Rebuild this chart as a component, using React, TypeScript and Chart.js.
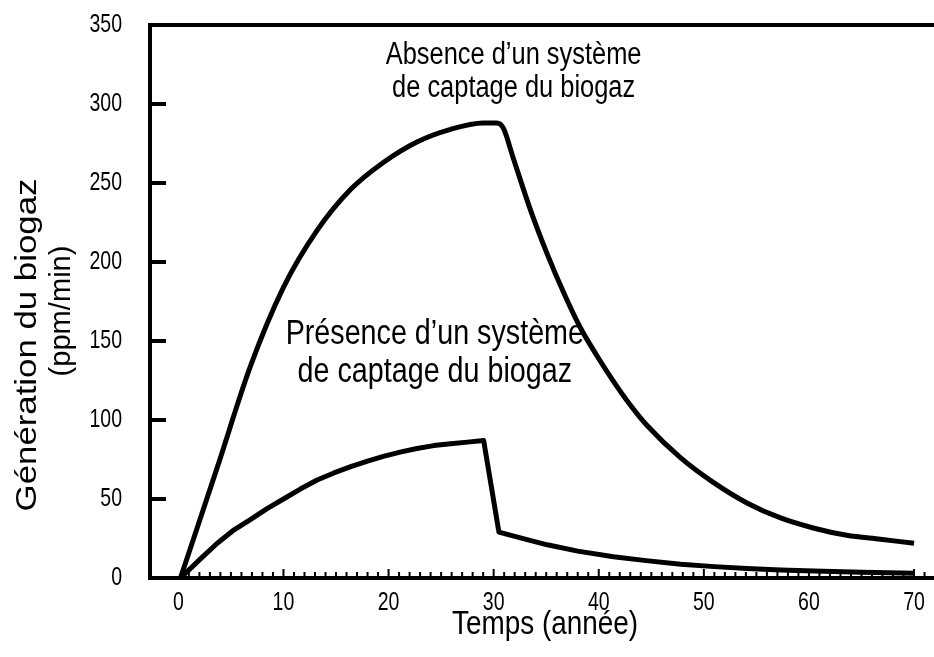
import React, { useEffect, useRef } from "react";
import { Chart, registerables } from "chart.js";

Chart.register(...registerables);

// ---- data ----
const X_TICKS = [0, 10, 20, 30, 40, 50, 60, 70];
const Y_TICKS = [0, 50, 100, 150, 200, 250, 300, 350];

const UPPER_X = [0.2, 3.7, 6.85, 10, 13.2, 16.4, 19.5, 22.7, 25.9, 29, 30.3, 30.9, 31.9, 33.5, 35.1, 36.7, 38.2, 39.8, 41.4, 43, 44.6, 47.8, 50.9, 54.1, 57.3, 60.5, 63.6, 66.8, 70];
const UPPER_Y = [0, 70, 134, 184, 220, 246, 263, 276, 284, 288, 288, 285, 265, 233, 205, 180, 159, 141, 124.5, 109.5, 96.5, 76, 60.5, 47.5, 38, 31.5, 27, 24.5, 22];

const LOWER_X = [0.2, 2, 3.7, 5.3, 6.85, 8.4, 10, 11.6, 13.2, 14.8, 16.4, 18, 19.5, 21.1, 22.7, 24.3, 25.9, 27.5, 29.05, 30.5, 33, 35.1, 38, 41.4, 44.5, 47.8, 51, 54.1, 57.3, 60.5, 65, 70];
const LOWER_Y = [0, 11.5, 22, 30.5, 37, 43.8, 50, 56.3, 62, 66.5, 70.5, 74, 77, 79.7, 82, 83.8, 85, 86, 87, 29, 24.6, 21, 17, 13.5, 11, 8.7, 7.2, 6, 5.1, 4.5, 3.7, 3];

const X_TITLE = "Temps (année)";
const Y_TITLE = ["Génération du biogaz", "(ppm/min)"];
const LABEL_ABSENCE = ["Absence d’un système", "de captage du biogaz"];
const LABEL_PRESENCE = ["Présence d’un système", "de captage du biogaz"];
// anchor: [x value, y value line 1, y value line 2]
const ABSENCE_ANCHOR = [31.9, 331, 310];
const PRESENCE_ANCHOR = [24.4, 154, 130];

const FAMILY = "'Liberation Sans', Arial, Helvetica, sans-serif";

const toPoints = (xs: number[], ys: number[]) => xs.map((x, i) => ({ x, y: ys[i] }));

function narrowText(ctx: CanvasRenderingContext2D, text: string, x: number, y: number, size: number, sx = 0.82, rot = 0) {
  ctx.save();
  ctx.font = `${size}px ${FAMILY}`;
  ctx.translate(x, y);
  if (rot) ctx.rotate(rot);
  ctx.scale(sx, 1);
  ctx.fillText(text, 0, 0);
  ctx.restore();
}

const decoPlugin = {
  id: "deco",
  afterDraw(chart: any) {
    const { ctx, chartArea } = chart;
    const { left, right, top, bottom } = chartArea;
    const xs = chart.scales.x;
    const ys = chart.scales.y;
    ctx.save();
    ctx.strokeStyle = "#000";
    ctx.fillStyle = "#000";
    ctx.lineCap = "butt";
    // top frame line
    ctx.lineWidth = 4;
    ctx.beginPath();
    ctx.moveTo(left - 2, top);
    ctx.lineTo(right, top);
    ctx.stroke();
    // inward y ticks
    for (const t of ys.ticks) {
      const py = ys.getPixelForValue(t.value);
      ctx.beginPath();
      ctx.moveTo(left, py);
      ctx.lineTo(left + 16, py);
      ctx.stroke();
    }
    // inward x ticks (minor every year, major every 10)
    ctx.lineWidth = 2;
    for (let v = 1; v <= 71; v++) {
      const px = xs.getPixelForValue(v);
      const len = v % 10 === 0 ? 7 : 4;
      ctx.beginPath();
      ctx.moveTo(px, bottom - 1);
      ctx.lineTo(px, bottom - 2 - len);
      ctx.stroke();
    }
    // tick labels (condensed look)
    ctx.textBaseline = "middle";
    ctx.textAlign = "right";
    for (const t of ys.ticks) {
      narrowText(ctx, String(t.value), left - 28, ys.getPixelForValue(t.value), 25, 0.78);
    }
    ctx.textAlign = "center";
    for (const t of xs.ticks) {
      narrowText(ctx, String(t.value), xs.getPixelForValue(t.value), 603, 25, 0.78);
    }
    // x title
    narrowText(ctx, X_TITLE, (left + right) / 2 + 3, 625, 34);
    // y title (two lines, rotated)
    narrowText(ctx, Y_TITLE[0], 28, 345, 30, 1.16, -Math.PI / 2);
    narrowText(ctx, Y_TITLE[1], 62, 311, 30, 0.97, -Math.PI / 2);
    // annotations
    const ax = xs.getPixelForValue(ABSENCE_ANCHOR[0]);
    narrowText(ctx, LABEL_ABSENCE[0], ax, ys.getPixelForValue(ABSENCE_ANCHOR[1]), 31);
    narrowText(ctx, LABEL_ABSENCE[1], ax, ys.getPixelForValue(ABSENCE_ANCHOR[2]), 31);
    const px = xs.getPixelForValue(PRESENCE_ANCHOR[0]);
    narrowText(ctx, LABEL_PRESENCE[0], px, ys.getPixelForValue(PRESENCE_ANCHOR[1]), 35);
    narrowText(ctx, LABEL_PRESENCE[1], px, ys.getPixelForValue(PRESENCE_ANCHOR[2]), 35);
    ctx.restore();
  },
};

export default function App() {
  const ref = useRef<HTMLCanvasElement | null>(null);
  useEffect(() => {
    document.body.style.margin = "0";
    const canvas = ref.current;
    if (!canvas) return;
    const base = {
      borderColor: "#000",
      borderWidth: 5,
      pointRadius: 0,
      borderJoinStyle: "round",
      fill: false,
    };
    const chart = new Chart(canvas, {
      type: "line",
      data: {
        datasets: [
          { label: "Absence", data: toPoints(UPPER_X, UPPER_Y), ...base, cubicInterpolationMode: "monotone" },
          { label: "Présence", data: toPoints(LOWER_X, LOWER_Y), ...base, tension: 0 },
        ],
      },
      options: {
        animation: false,
        responsive: false,
        devicePixelRatio: 1,
        layout: { padding: { top: 25, right: 0, left: 0, bottom: 0 } },
        plugins: { legend: { display: false }, tooltip: { enabled: false } },
        scales: {
          x: {
            type: "linear",
            min: -2.7,
            max: 71.9,
            afterBuildTicks: (s: any) => {
              s.ticks = X_TICKS.map((v) => ({ value: v }));
            },
            afterFit: (s: any) => {
              s.height = 79;
              s.paddingLeft = 0;
              s.paddingRight = 0;
            },
            grid: { display: false, drawTicks: false },
            border: { display: true, width: 4, color: "#000" },
            ticks: { display: false },
          },
          y: {
            type: "linear",
            min: 0,
            max: 350,
            afterBuildTicks: (s: any) => {
              s.ticks = Y_TICKS.map((v) => ({ value: v }));
            },
            afterFit: (s: any) => {
              s.width = 150;
              s.paddingTop = 0;
              s.paddingBottom = 0;
            },
            grid: { display: false, drawTicks: false },
            border: { display: true, width: 4, color: "#000" },
            ticks: { display: false },
          },
        },
      },
      plugins: [decoPlugin],
    } as any);
    return () => chart.destroy();
  }, []);
  return (
    <div style={{ width: 934, height: 657, background: "#fff" }}>
      <canvas ref={ref} width={934} height={657} />
    </div>
  );
}
